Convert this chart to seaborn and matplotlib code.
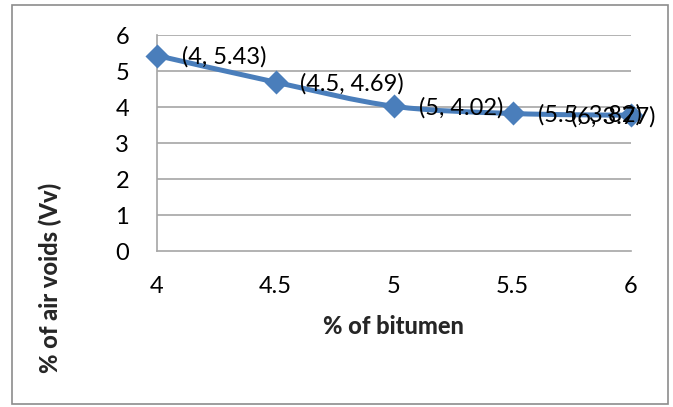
import pandas as pd
import matplotlib.pyplot as plt
import seaborn as sns
from matplotlib.path import Path
from matplotlib.patches import PathPatch, Rectangle

# data
bitumen = [4, 4.5, 5, 5.5, 6]
air_voids = [5.43, 4.69, 4.02, 3.82, 3.77]
x_ticks = [4, 4.5, 5, 5.5, 6]
x_tick_labels = ['4', '4.5', '5', '5.5', '6']
y_ticks = [0, 1, 2, 3, 4, 5, 6]

df = pd.DataFrame({'bitumen': bitumen, 'voids': air_voids})

sns.set_style('white')
plt.rcParams['font.family'] = ['Lato', 'DejaVu Sans']

blue = '#4A7EBB'
grid_c = '#a6a6a6'

fig = plt.figure(figsize=(6.73, 4.07), dpi=100)
ax = fig.add_axes([157 / 673, 1 - 251 / 407, (631 - 157) / 673, (251 - 35) / 407])

# outer chart border like Excel
fig.patches.append(Rectangle((12 / 673, 3 / 407), 656 / 673, 399 / 407,
                             transform=fig.transFigure, fill=False,
                             edgecolor='#8c8c8c', linewidth=1.2))

# smoothed line (Excel style bezier through the points)
pts = list(zip(df['bitumen'], df['voids']))
verts = [pts[0]]
codes = [Path.MOVETO]
n = len(pts)
for i in range(n - 1):
    p0 = pts[max(i - 1, 0)]
    p1 = pts[i]
    p2 = pts[i + 1]
    p3 = pts[min(i + 2, n - 1)]
    c1 = (p1[0] + (p2[0] - p0[0]) / 6, p1[1] + (p2[1] - p0[1]) / 6)
    c2 = (p2[0] - (p3[0] - p1[0]) / 6, p2[1] - (p3[1] - p1[1]) / 6)
    verts += [c1, c2, p2]
    codes += [Path.CURVE4] * 3
ax.add_patch(PathPatch(Path(verts, codes), fill=False, edgecolor=blue,
                       linewidth=3.6, capstyle='round', zorder=3))

sns.scatterplot(data=df, x='bitumen', y='voids', marker='D', s=150,
                color=blue, edgecolor=blue, linewidth=0, ax=ax, zorder=4,
                clip_on=False)

# data labels
for i, (xv, yv) in enumerate(zip(bitumen, air_voids)):
    lab = f'({xv:g}, {yv:.2f})'
    dx = 18 if i < n - 1 else -43
    ax.annotate(lab, (xv, yv), xytext=(dx, -1), textcoords='offset points',
                ha='left', va='center', fontsize=17, color='black', zorder=5)

ax.set_xlim(4, 6)
ax.set_ylim(0, 6)
ax.set_xticks(x_ticks)
ax.set_xticklabels(x_tick_labels)
ax.set_yticks(y_ticks)
ax.tick_params(axis='both', length=0, labelsize=17, colors='black')
ax.tick_params(axis='x', pad=18)
ax.tick_params(axis='y', pad=20)
for t in y_ticks[1:]:
    ax.axhline(t, color=grid_c, linewidth=1.2, zorder=1)
for side in ['top', 'right']:
    ax.spines[side].set_visible(False)
for side in ['left', 'bottom']:
    ax.spines[side].set_color(grid_c)
    ax.spines[side].set_linewidth(1.2)

ax.set_xlabel('')
ax.set_ylabel('')
fig.text(393 / 673, 1 - 326 / 407, '% of bitumen', ha='center', va='center',
         fontsize=17, fontweight='black')
fig.text(50 / 673, 1 - 278 / 407, '% of air voids (Vv)', ha='center', va='center',
         rotation=90, fontsize=17, fontweight='black')

fig.savefig('out.png', dpi=100)
